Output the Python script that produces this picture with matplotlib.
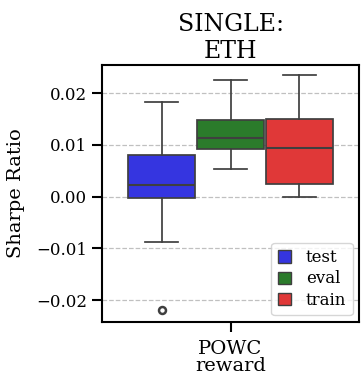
import matplotlib
matplotlib.use("Agg")
import matplotlib.pyplot as plt
from matplotlib.patches import Patch

plt.rcParams["font.family"] = "DejaVu Serif"

# box statistics (Sharpe ratio)
splits = ["test", "eval", "train"]
whislo = [-0.0087, 0.0053, -0.0001]
q1 = [-0.0003, 0.0092, 0.0025]
med = [0.0023, 0.0113, 0.0095]
q3 = [0.0081, 0.0149, 0.0151]
whishi = [0.0184, 0.0225, 0.0235]
fliers = [[-0.0219], [], []]

category = "POWC\nreward"
colors = ["#3535e0", "#2b7b2b", "#e03838"]
offsets = [-0.267, 0.0, 0.267]

fig, ax = plt.subplots(figsize=(3.63, 3.81), dpi=100)

stats = []
for i, s in enumerate(splits):
    stats.append(dict(label=s, whislo=whislo[i], q1=q1[i], med=med[i],
                      q3=q3[i], whishi=whishi[i], fliers=fliers[i]))

edge = "#3f3f3f"
bp = ax.bxp(stats, positions=offsets, widths=0.26, patch_artist=True,
            boxprops=dict(edgecolor=edge, linewidth=1.25),
            medianprops=dict(color=edge, linewidth=1.5),
            whiskerprops=dict(color=edge, linewidth=1.25),
            capprops=dict(color=edge, linewidth=1.25),
            flierprops=dict(marker="o", markerfacecolor="none",
                            markeredgecolor=edge, markersize=5,
                            markeredgewidth=1.8),
            manage_ticks=False, zorder=3)
for patch, c in zip(bp["boxes"], colors):
    patch.set_facecolor(c)

ax.set_xlim(-0.5, 0.5)
ax.set_ylim(-0.0242, 0.0255)
ax.set_xticks([0])
ax.set_xticklabels([category], fontsize=14, linespacing=0.9)
ax.set_yticks([-0.02, -0.01, 0.0, 0.01, 0.02])
ax.set_yticklabels(["\u22120.02", "\u22120.01", "0.00", "0.01", "0.02"], fontsize=12)
ax.tick_params(axis="both", length=7, width=1.5)
ax.tick_params(axis="x", pad=6)
ax.set_ylabel("Sharpe Ratio", fontsize=14, labelpad=8)
ax.set_title("SINGLE:\nETH", fontsize=17, linespacing=1.2, pad=5)
ax.grid(axis="y", linestyle="--", color="#c0c0c0", linewidth=0.9, zorder=0)
for sp in ax.spines.values():
    sp.set_linewidth(1.5)

handles = [Patch(facecolor=c, edgecolor=edge, label=s) for s, c in zip(splits, colors)]
ax.legend(handles=handles, loc="lower right", fontsize=12,
          handlelength=0.75, handleheight=0.75, handletextpad=0.9,
          borderpad=0.4, labelspacing=0.25, framealpha=0.8,
          borderaxespad=0.4)

fig.subplots_adjust(left=0.28, right=0.99, top=0.83, bottom=0.155)
fig.savefig("out.png", dpi=100)
